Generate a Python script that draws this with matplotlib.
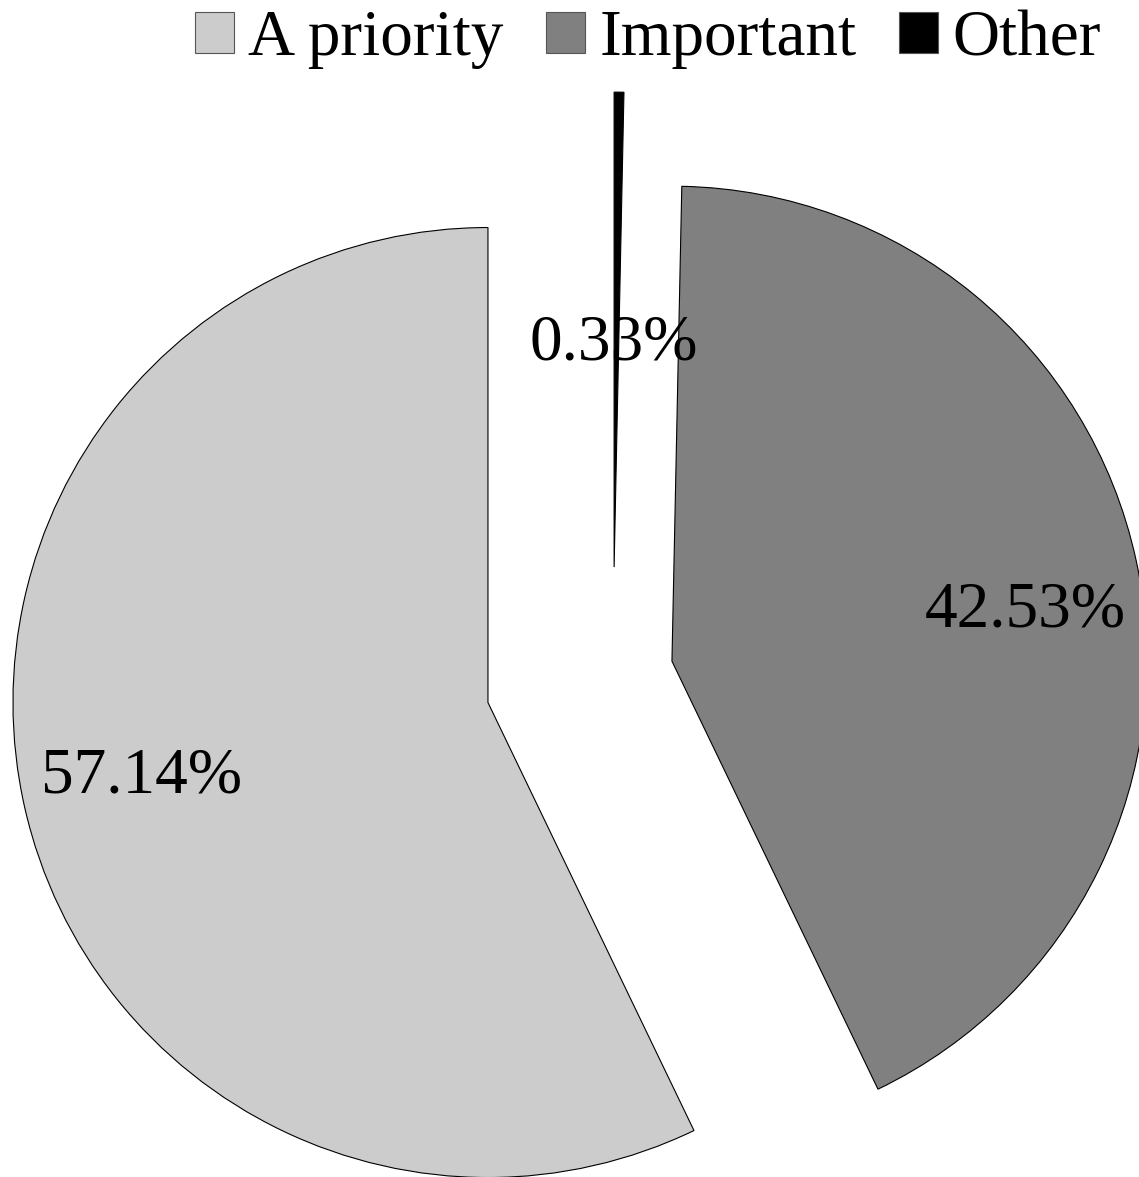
import matplotlib
matplotlib.use("Agg")
import matplotlib.pyplot as plt
import numpy as np

# pie data, drawn clockwise from 12 o'clock
labels = ["Other", "Important", "A priority"]
values = [0.33, 42.53, 57.14]
colors = ["#000000", "#808080", "#cccccc"]
explode = [0.225, 0.127, 0.27]
legend_order = ["A priority", "Important", "Other"]

# where each percent label sits, relative to its own wedge tip
label_dist = [0.484, 0.754, 0.743]
label_angle = [90.0, 9.3, 190.9]

plt.rcParams["font.family"] = ["Liberation Serif", "DejaVu Serif"]

fig = plt.figure(figsize=(11.39, 11.77), dpi=100)
ax = fig.add_axes([0, 0, 1, 1])

wedges, texts, autotexts = ax.pie(
    values, labels=None, colors=colors, explode=explode,
    startangle=90, counterclock=False, autopct="%.2f%%",
    pctdistance=0.75, radius=1.0,
    wedgeprops=dict(edgecolor="black", linewidth=0.8),
    textprops=dict(fontsize=47, color="black"))

for w, t, d, a in zip(wedges, autotexts, label_dist, label_angle):
    cx, cy = w.center
    t.set_position((cx + d * np.cos(np.deg2rad(a)), cy + d * np.sin(np.deg2rad(a))))
    t.set_va("center_baseline")

# pie centre placed at (613, 674) px, radius 475 px
r = 475.0
ax.set_xlim(-613 / r, (1139 - 613) / r)
ax.set_ylim(-(1177 - 674) / r, 674 / r)
ax.set_aspect("equal")
ax.axis("off")

handles = {l: wd for l, wd in zip(labels, wedges)}
leg = fig.legend([handles[l] for l in legend_order], legend_order,
                 loc="upper right", bbox_to_anchor=(1.001, 1.025),
                 ncol=3, frameon=False, fontsize=47,
                 handlelength=0.6, handleheight=0.6, handletextpad=0.22,
                 columnspacing=0.65, borderpad=0.1)
for h in leg.legend_handles:
    h.set_linewidth(0.8)
    h.set_edgecolor("#555555")

fig.savefig("out.png", dpi=100)
